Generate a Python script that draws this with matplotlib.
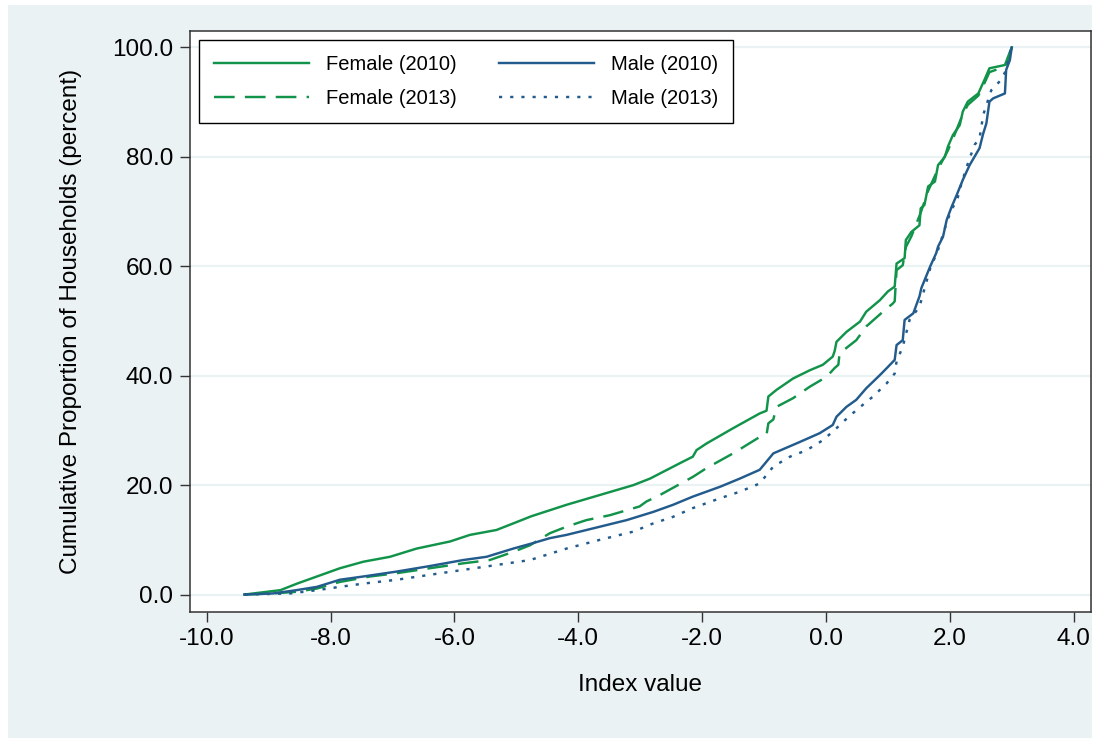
import matplotlib
matplotlib.use("Agg")
import matplotlib.pyplot as plt
from matplotlib.patches import Rectangle

plt.rcParams['font.family'] = ['Liberation Sans', 'DejaVu Sans']

# cumulative distribution of the index, by sex of household head and year
f10_x = [-9.39, -8.81, -8.54, -8.22, -7.85, -7.47, -7.04, -6.61, -6.07, -5.75, -5.32, -5.05,
         -4.76, -4.19, -3.65, -3.11, -2.84, -2.36, -2.15, -2.09, -1.93, -1.50, -1.07, -0.96,
         -0.93, -0.80, -0.53, -0.26, -0.05, 0.11, 0.14, 0.17, 0.33, 0.55, 0.65, 0.87, 1.00,
         1.11, 1.14, 1.27, 1.29, 1.38, 1.51, 1.53, 1.59, 1.65, 1.76, 1.81, 1.92, 1.97, 2.05,
         2.16, 2.21, 2.29, 2.46, 2.56, 2.64, 2.89, 2.94, 3.00]
f10_y = [0, 0.8, 2.0, 3.3, 4.8, 6.0, 6.9, 8.4, 9.7, 10.9, 11.8, 13.0,
         14.3, 16.4, 18.2, 20.0, 21.2, 24.0, 25.2, 26.4, 27.6, 30.4, 33.1, 33.6,
         36.2, 37.4, 39.5, 41.0, 42.0, 43.5, 44.5, 46.2, 48.0, 49.9, 51.7, 53.8, 55.4,
         56.3, 60.5, 61.5, 64.8, 66.3, 67.5, 70.6, 71.2, 74.6, 75.5, 78.5, 80.0, 81.9, 84.0,
         85.8, 88.3, 90.1, 91.6, 94.1, 96.2, 96.8, 98.3, 100]

f13_x = [-9.39, -8.93, -8.55, -8.22, -7.85, -7.36, -6.93, -6.40, -5.86, -5.43, -5.05, -4.78,
         -4.46, -4.19, -3.87, -3.49, -3.01, -2.90, -2.68, -2.15, -1.93, -1.50, -1.07, -0.96,
         -0.93, -0.85, -0.80, -0.53, -0.26, 0.01, 0.14, 0.20, 0.22, 0.49, 0.65, 0.92, 1.08,
         1.11, 1.14, 1.24, 1.29, 1.38, 1.53, 1.65, 1.81, 1.97, 2.05, 2.21, 2.29, 2.46, 2.56,
         2.64, 2.89, 2.95, 3.00]
f13_y = [0, 0.2, 0.5, 1.1, 2.3, 3.3, 3.9, 4.8, 5.7, 6.3, 7.8, 9.0,
         11.2, 12.4, 13.6, 14.5, 16.1, 17.0, 18.2, 21.5, 23.1, 25.8, 28.8, 29.2,
         31.3, 32.0, 34.3, 35.9, 38.0, 39.8, 41.4, 42.0, 44.1, 46.5, 49.0, 51.7, 53.2,
         53.6, 59.3, 60.2, 63.5, 65.5, 69.8, 73.8, 77.8, 81.2, 83.3, 87.8, 89.5, 91.2, 93.5,
         95.5, 96.5, 98.0, 100]

m10_x = [-9.39, -8.93, -8.55, -8.22, -7.85, -7.47, -6.93, -6.40, -5.86, -5.48, -5.05, -4.73,
         -4.46, -4.19, -3.65, -3.22, -2.79, -2.47, -2.15, -1.71, -1.39, -1.07, -0.96, -0.85,
         -0.42, -0.10, 0.11, 0.17, 0.33, 0.49, 0.65, 0.87, 1.00, 1.11, 1.14, 1.24, 1.27,
         1.41, 1.51, 1.54, 1.68, 1.78, 1.81, 1.89, 1.95, 2.03, 2.11, 2.21, 2.32, 2.48, 2.54,
         2.59, 2.64, 2.70, 2.89, 2.91, 2.97, 3.00]
m10_y = [0, 0.2, 0.8, 1.4, 2.7, 3.3, 4.2, 5.2, 6.3, 6.9, 8.4, 9.4,
         10.3, 10.9, 12.4, 13.6, 15.1, 16.4, 17.9, 19.7, 21.2, 22.8, 24.3, 25.8,
         27.9, 29.5, 31.0, 32.5, 34.3, 35.6, 37.7, 40.1, 41.6, 42.9, 45.6, 46.5, 50.2,
         51.4, 54.5, 56.0, 59.9, 62.4, 63.6, 65.4, 68.5, 70.9, 73.0, 75.8, 78.5, 81.6, 84.3,
         86.1, 90.1, 90.7, 91.6, 95.9, 97.7, 100]

m13_x = [-9.39, -8.65, -8.22, -7.85, -7.47, -6.93, -6.40, -5.86, -5.32, -4.78, -4.19, -3.65,
         -3.11, -2.79, -2.47, -2.15, -1.71, -1.39, -1.07, -0.85, -0.58, -0.31, -0.05, 0.17,
         0.28, 0.49, 0.76, 0.98, 1.11, 1.14, 1.24, 1.35, 1.51, 1.68, 1.81, 1.95, 2.03, 2.11,
         2.19, 2.30, 2.40, 2.48, 2.54, 2.67, 2.83, 2.91, 2.99]
m13_y = [0, 0.2, 0.8, 1.4, 2.0, 2.7, 3.6, 4.5, 5.4, 6.3, 8.4, 10.0,
         11.5, 13.0, 14.2, 15.8, 17.6, 18.8, 20.3, 23.4, 25.2, 26.4, 28.2, 30.4,
         31.6, 33.7, 36.2, 38.6, 40.4, 42.6, 45.3, 50.2, 52.6, 59.5, 63.0, 68.0, 70.5, 71.8,
         75.2, 79.1, 82.2, 83.4, 87.7, 92.2, 94.1, 95.9, 100]

x_ticks = [-10, -8, -6, -4, -2, 0, 2, 4]
y_ticks = [0, 20, 40, 60, 80, 100]

verde = '#12934A'
azul = '#225B8C'
fondo = '#EAF2F3'

fig = plt.figure(figsize=(11.03, 7.38), dpi=100, facecolor='white')
fig.patches.append(Rectangle((8 / 1103, 0), 1084 / 1103, 733 / 738, transform=fig.transFigure,
                             facecolor=fondo, edgecolor='none', zorder=-10))

ax = fig.add_axes([190 / 1103, 1 - 611.7 / 738, 901 / 1103, 581 / 738])
ax.set_facecolor('white')

lw = 1.75
ax.plot(f10_x, f10_y, color=verde, lw=lw, label='Female (2010)')
ax.plot(f13_x, f13_y, color=verde, lw=lw, linestyle=(0, (8.5, 4.2)), label='Female (2013)')
ax.plot(m10_x, m10_y, color=azul, lw=lw, label='Male (2010)')
ax.plot(m13_x, m13_y, color=azul, lw=lw, linestyle=(0, (1.3, 3.3)), label='Male (2013)')

ax.set_xlim(-10.27, 4.28)
ax.set_ylim(-3.14, 103.07)
ax.set_xticks(x_ticks)
ax.set_yticks(y_ticks)
ax.set_xticklabels([f'{v:.1f}' for v in x_ticks])
ax.set_yticklabels([f'{v:.1f}' for v in y_ticks])

ax.grid(axis='y', color=fondo, lw=1.6)
ax.set_axisbelow(True)
for s in ax.spines.values():
    s.set_color('#333333')
    s.set_linewidth(1.1)
ax.tick_params(axis='both', direction='out', length=7, width=1, color='#333333',
               labelsize=17.5, pad=5)

ax.set_xlabel('Index value', fontsize=17.5, labelpad=17)
ax.set_ylabel('Cumulative Proportion of Households (percent)', fontsize=17.5, labelpad=22)

leg = ax.legend(ncol=2, loc='upper left', bbox_to_anchor=(0.010, 0.984), fontsize=14.5,
                frameon=True, fancybox=False, framealpha=1, edgecolor='black',
                handlelength=4.7, handletextpad=0.85, columnspacing=2.1,
                labelspacing=0.75, borderpad=0.75, borderaxespad=0)
leg.get_frame().set_linewidth(1.0)

fig.savefig('out.png', dpi=100, facecolor='white')
